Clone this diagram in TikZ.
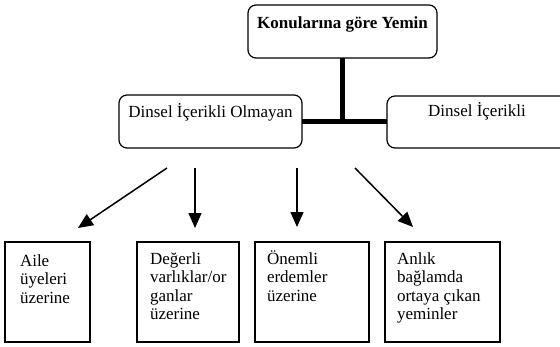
\documentclass[tikz,border=0pt]{standalone}
\usepackage{fontspec}
\setmainfont{Liberation Serif}
\usetikzlibrary{arrows.meta}
\tikzset{
  rbox/.style={draw, line width=1.2pt, rounded corners=8pt, inner sep=0pt, outer sep=0pt, anchor=north west},
  sbox/.style={draw, line width=1.2pt, inner sep=0pt, outer sep=0pt, anchor=north west},
  txt/.style={inner sep=0pt, outer sep=0pt, font=\fontsize{17}{18.5}\selectfont},
  thick link/.style={line width=5pt},
  arr/.style={line width=1.5pt, -{Triangle[length=15pt,width=13pt]}},
}
\newcommand{\boxtext}[1]{\parbox[t]{110pt}{\raggedright #1}}
\begin{document}
\begin{tikzpicture}[x=1pt,y=-1pt]
\useasboundingbox (0,0) rectangle (560,346);
\clip (0,0) rectangle (560,346);
% top level
\node[rbox, minimum width=189pt, minimum height=53pt] (top) at (248,5) {};
\node[txt, anchor=base, font=\fontsize{17}{18.5}\selectfont\bfseries] (toptxt) at (top.north |- 0,28) {Konularına göre Yemin};
% second level
\node[rbox, minimum width=183pt, minimum height=53pt] (lft) at (119,95) {};
\node[txt, anchor=base] (lfttxt) at (lft.north |- 0,117) {Dinsel İçerikli Olmayan};
\node[rbox, minimum width=200pt, minimum height=52pt] (rgt) at (387,96) {};
\node[txt, anchor=base] (rgttxt) at (477,116) {Dinsel İçerikli};
% thick connectors
\draw[thick link] (top.south) -- (top.south |- lft.east);
\draw[thick link] (lft.east) -- (rgt.west |- lft.east);
% bottom boxes
\node[sbox, minimum width=85pt, minimum height=100pt] (b1) at (5,242) {};
\node[sbox, minimum width=102pt, minimum height=100pt] (b2) at (137,242) {};
\node[sbox, minimum width=114pt, minimum height=100pt] (b3) at (255,242) {};
\node[sbox, minimum width=115pt, minimum height=100pt] (b4) at (385,242) {};
\node[txt, anchor=base west] (t1) at (20,266) {\boxtext{Aile\\üyeleri\\üzerine}};
\node[txt, anchor=base west] (t2) at (150,264) {\boxtext{Değerli\\varlıklar/or\\ganlar\\üzerine}};
\node[txt, anchor=base west] (t3) at (267,264) {\boxtext{Önemli\\erdemler\\üzerine}};
\node[txt, anchor=base west] (t4) at (397,264) {\boxtext{Anlık\\bağlamda\\ortaya çıkan\\yeminler}};
% arrows
\coordinate (s1) at (167,168); \coordinate (e1) at (78,228);
\coordinate (s2) at (195,168); \coordinate (e2) at (195,228);
\coordinate (s3) at (297,168); \coordinate (e3) at (297,227);
\coordinate (s4) at (355,168); \coordinate (e4) at (413,227);
\draw[arr] (s1) -- (e1);
\draw[arr] (s2) -- (e2);
\draw[arr] (s3) -- (e3);
\draw[arr] (s4) -- (e4);
\end{tikzpicture}
\end{document}
